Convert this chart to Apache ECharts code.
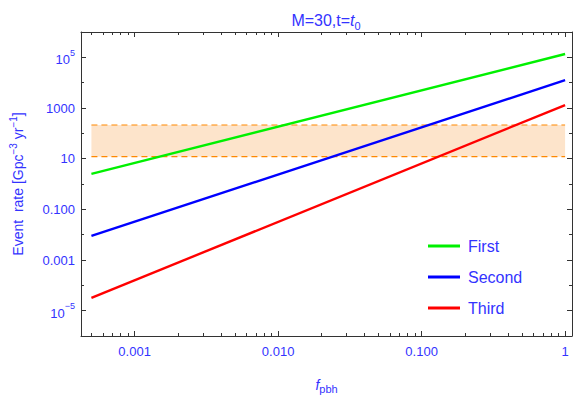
<!DOCTYPE html>
<html><head><meta charset="utf-8">
<script src="https://cdn.jsdelivr.net/npm/echarts@6/dist/echarts.min.js"></script>
<style>html,body{margin:0;padding:0;background:#fff}#c{width:574px;height:399px}</style>
</head><body><div id="c"></div>
<script>
// ---- data ----
const fpbh = [5e-4, 1];
const firstRate = [2.5, 1.35e5];
const secondRate = [0.0089, 1.26e4];
const thirdRate = [3.2e-5, 1310];
const bandRange = [12, 213];
const bandX = [5e-4, 1];
const xMajorTicks = [0.001, 0.01, 0.1, 1];
const xTickLabels = ['0.001', '0.010', '0.100', '1'];
const xMinorTicks = [5e-4, 6e-4, 7e-4, 8e-4, 9e-4,
  2e-3, 3e-3, 4e-3, 5e-3, 6e-3, 7e-3, 8e-3, 9e-3,
  0.02, 0.03, 0.04, 0.05, 0.06, 0.07, 0.08, 0.09,
  0.2, 0.3, 0.4, 0.5, 0.6, 0.7, 0.8, 0.9];
const yMajorTicks = [1e-5, 1e-3, 0.1, 10, 1000, 1e5];
const yTickLabels = ['{b|10}{sup|\u22125}', '0.001', '0.100', '10', '1000', '{b|10}{sup|5}'];
const yMinorTicks = [1e-4, 1e-2, 1, 100, 1e4];
const xRange = [4.23e-4, 1.117];
const yRange = [1e-6, 1e6];

const BLUE_TXT = '#3333ff';
const FRAME = '#333333';
const FONT = 'Liberation Sans, Arial, sans-serif';

function lookup(ticks, labels) {
  return function (v) {
    const e = Math.log10(v);
    for (let i = 0; i < ticks.length; i++) {
      if (Math.abs(Math.log10(ticks[i]) - e) < 0.01) return labels[i];
    }
    return '';
  };
}

function xAx(pos, ticks, len, line, labels) {
  return {
    type: 'log', logBase: 10, position: pos, min: xRange[0], max: xRange[1],
    splitLine: { show: false },
    axisLine: { show: line, lineStyle: { color: FRAME, width: 1 } },
    axisTick: { show: true, inside: true, length: len, customValues: ticks, lineStyle: { color: FRAME, width: 1 } },
    axisLabel: labels ? {
      show: true, customValues: xMajorTicks, formatter: lookup(xMajorTicks, xTickLabels),
      color: BLUE_TXT, fontSize: 13, fontFamily: FONT, margin: 9
    } : { show: false }
  };
}
function yAx(pos, ticks, len, line, labels) {
  return {
    type: 'log', logBase: 10, position: pos, min: yRange[0], max: yRange[1],
    splitLine: { show: false },
    axisLine: { show: line, lineStyle: { color: FRAME, width: 1 } },
    axisTick: { show: true, inside: true, length: len, customValues: ticks, lineStyle: { color: FRAME, width: 1 } },
    axisLabel: labels ? {
      show: true, customValues: yMajorTicks, formatter: lookup(yMajorTicks, yTickLabels),
      color: BLUE_TXT, fontSize: 13, fontFamily: FONT, margin: 6,
      rich: {
        b: { fontSize: 13, color: BLUE_TXT, fontFamily: FONT, lineHeight: 18, verticalAlign: 'bottom' },
        sup: { fontSize: 9, color: BLUE_TXT, fontFamily: FONT, lineHeight: 18, verticalAlign: 'top' }
      }
    } : { show: false }
  };
}

const xAxes = [
  xAx('bottom', xMajorTicks, 5, true, true),
  xAx('bottom', xMinorTicks, 3, false, false),
  xAx('top', xMajorTicks, 5, true, false),
  xAx('top', xMinorTicks, 3, false, false)
];
xAxes[0].name = '{i|f}{sub|pbh}';
xAxes[0].nameLocation = 'middle';
xAxes[0].nameGap = 42;
xAxes[0].nameTextStyle = {
  color: BLUE_TXT, fontFamily: FONT,
  rich: {
    i: { fontSize: 14, fontStyle: 'italic', fontFamily: FONT, color: BLUE_TXT, lineHeight: 16, verticalAlign: 'top' },
    sub: { fontSize: 11, color: BLUE_TXT, fontFamily: FONT, lineHeight: 16, verticalAlign: 'bottom' }
  }
};
const yAxes = [
  yAx('left', yMajorTicks, 5, true, true),
  yAx('left', yMinorTicks, 3, false, false),
  yAx('right', yMajorTicks, 5, true, false),
  yAx('right', yMinorTicks, 3, false, false)
];
yAxes[0].name = 'Event  rate [Gpc{sup|\u22123} yr{sup|\u22121}]';
yAxes[0].nameLocation = 'middle';
yAxes[0].nameRotate = 90;
yAxes[0].nameGap = 53;
yAxes[0].nameTextStyle = {
  color: BLUE_TXT, fontSize: 14, lineHeight: 20, fontFamily: FONT,
  rich: {
    sup: { fontSize: 10, color: BLUE_TXT, fontFamily: FONT, lineHeight: 20, verticalAlign: 'top' }
  }
};

function pts(ys) { return fpbh.map((x, i) => [x, ys[i]]); }

const chart = echarts.init(document.getElementById('c'), null, { renderer: 'svg' });
chart.setOption({
  animation: false,
  backgroundColor: '#ffffff',
  title: {
    text: 'M=30,t={i|t}{sub|0}',
    left: 326, top: 9, textAlign: 'center', padding: 0,
    textStyle: {
      color: BLUE_TXT, fontSize: 16, fontWeight: 'normal', fontFamily: FONT,
      lineHeight: 22,
      rich: {
        i: { fontSize: 16, fontStyle: 'italic', fontFamily: FONT, color: BLUE_TXT, lineHeight: 22 },
        sub: { fontSize: 11, color: BLUE_TXT, fontFamily: FONT, lineHeight: 20, verticalAlign: 'bottom' }
      }
    }
  },
  grid: { left: 77, right: 2, top: 32, bottom: 59, containLabel: false },
  legend: {
    data: ['First', 'Second', 'Third'],
    orient: 'vertical', left: 428, top: 237,
    icon: 'rect',
    itemWidth: 32, itemHeight: 3, itemGap: 13, padding: 0,
    textStyle: { color: BLUE_TXT, fontSize: 16, fontFamily: FONT, padding: [0, 0, 0, 3], lineHeight: 18 }
  },
  xAxis: xAxes,
  yAxis: yAxes,
  series: [
    {
      name: 'bandLow', type: 'line', xAxisIndex: 0, yAxisIndex: 0, symbol: 'none', z: 1,
      data: bandX.map(x => [x, bandRange[0]]),
      lineStyle: { color: '#ff8800', width: 1.2, type: [6, 4] },
      markArea: {
        silent: true,
        itemStyle: { color: '#fde4cb' },
        data: [[{ coord: [bandX[0], bandRange[0]] }, { coord: [bandX[1], bandRange[1]] }]]
      }
    },
    {
      name: 'bandHigh', type: 'line', xAxisIndex: 0, yAxisIndex: 0, symbol: 'none', z: 1,
      data: bandX.map(x => [x, bandRange[1]]),
      lineStyle: { color: '#ff8800', width: 1.2, type: [6, 4] }
    },
    {
      name: 'First', type: 'line', symbol: 'none', z: 3, data: pts(firstRate),
      itemStyle: { color: '#00f000' }, lineStyle: { color: '#00f000', width: 2.4 }
    },
    {
      name: 'Second', type: 'line', symbol: 'none', z: 3, data: pts(secondRate),
      itemStyle: { color: '#0000ff' }, lineStyle: { color: '#0000ff', width: 2.4 }
    },
    {
      name: 'Third', type: 'line', symbol: 'none', z: 3, data: pts(thirdRate),
      itemStyle: { color: '#ff0000' }, lineStyle: { color: '#ff0000', width: 2.4 }
    }
  ]
});
</script></body></html>
